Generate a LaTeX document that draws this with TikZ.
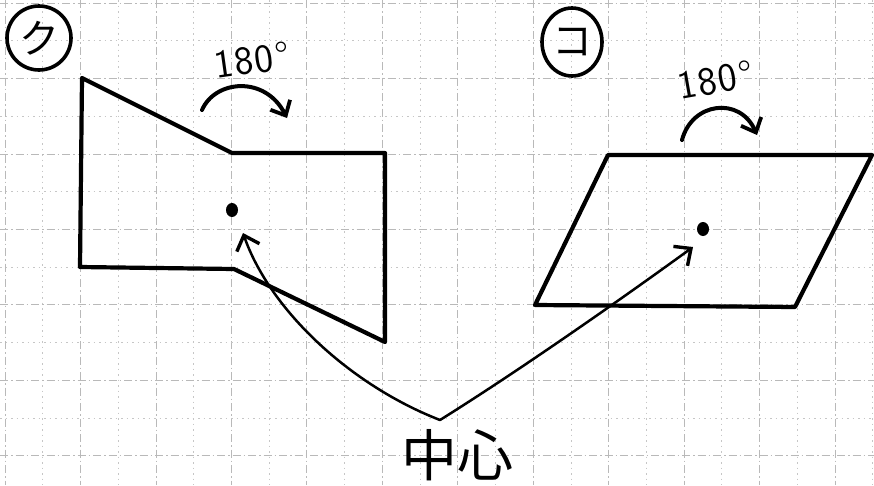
\documentclass[tikz,border=0pt]{standalone}
\usepackage{fontspec}
\newfontfamily\jpfont{Noto Sans CJK JP}
\usetikzlibrary{arrows.meta,shapes.geometric}
\newcommand{\degmark}{1\kern1.5pt8\kern1.5pt0\kern2.5pt°}
\begin{document}
\begin{tikzpicture}[x=1pt,y=-1pt,
  major/.style={draw=gray!55, line width=0.7pt, dash pattern=on 8pt off 3pt on 1.5pt off 3pt},
  minor/.style={draw=gray!45, line width=0.6pt, dash pattern=on 1.5pt off 4pt},
  figline/.style={line width=4.2pt, line join=round, line cap=round},
  pointer/.style={line width=2.5pt, line cap=round, -{Straight Barb[length=13pt,width=24pt,line width=3.4pt]}},
  turn/.style={line width=4pt, line cap=round, -{Straight Barb[length=12pt,width=22pt,line width=3.8pt]}},
  dot/.style={fill=black, ellipse, inner sep=0pt, minimum width=12pt, minimum height=14pt},
  degtext/.style={font=\fontsize{40}{40}\selectfont\sffamily, inner sep=0pt},
  ring/.style={draw, line width=3.6pt, ellipse, inner sep=0pt, font=\jpfont\fontsize{40}{40}\selectfont}
]
\useasboundingbox (0,0) rectangle (874,485);
\fill[white] (0,0) rectangle (874,485);
% grid
\foreach \k in {0,...,23}{\ifodd\k\draw[minor] (5+37.72*\k,0) -- (5+37.72*\k,485);\else\draw[major] (5+37.72*\k,0) -- (5+37.72*\k,485);\fi}
\foreach \k in {0,...,12}{\ifodd\k\draw[minor] (0,3+37.72*\k) -- (874,3+37.72*\k);\else\draw[major] (0,3+37.72*\k) -- (874,3+37.72*\k);\fi}
% labels
\node[ring, minimum width=64pt, minimum height=64pt] (lk) at (39,38) {ク};
\node[ring, minimum width=60pt, minimum height=68pt] (lko) at (572,42) {コ};
% figure ku
\draw[figline] (82,78) -- (232,153) -- (385,153) -- (385,342) -- (234,269) -- (80,267) -- cycle;
\node[dot] (c1) at (232,210) {};
% figure ko
\draw[figline] (608,155) -- (872,155) -- (795,307) -- (535,305) -- cycle;
\node[dot] (c2) at (703,229) {};
% rotation marks
\node[degtext, rotate=8] (d1) at (252,60) {\degmark};
\coordinate (a1s) at (202,110);
\coordinate (a1e) at (287,118);
\draw[turn] (a1s) .. controls (215,80) and (265,75) .. (a1e);
\node[degtext, rotate=10] (d2) at (716,80) {\degmark};
\coordinate (a2s) at (682,140);
\coordinate (a2e) at (757,135);
\draw[turn] (a2s) .. controls (692,102) and (740,96) .. (a2e);
% center label
\node[font=\jpfont\fontsize{56}{56}\selectfont, inner sep=0pt] (lbl) at (457,455) {中心};
\coordinate (apex) at (440,420);
\coordinate (t1) at (243,233);
\coordinate (t2) at (693,247);
\draw[pointer] (apex) .. controls (350,385) and (270,310) .. (t1);
\draw[pointer] (apex) .. controls (520,370) and (620,300) .. (t2);
\end{tikzpicture}
\end{document}
